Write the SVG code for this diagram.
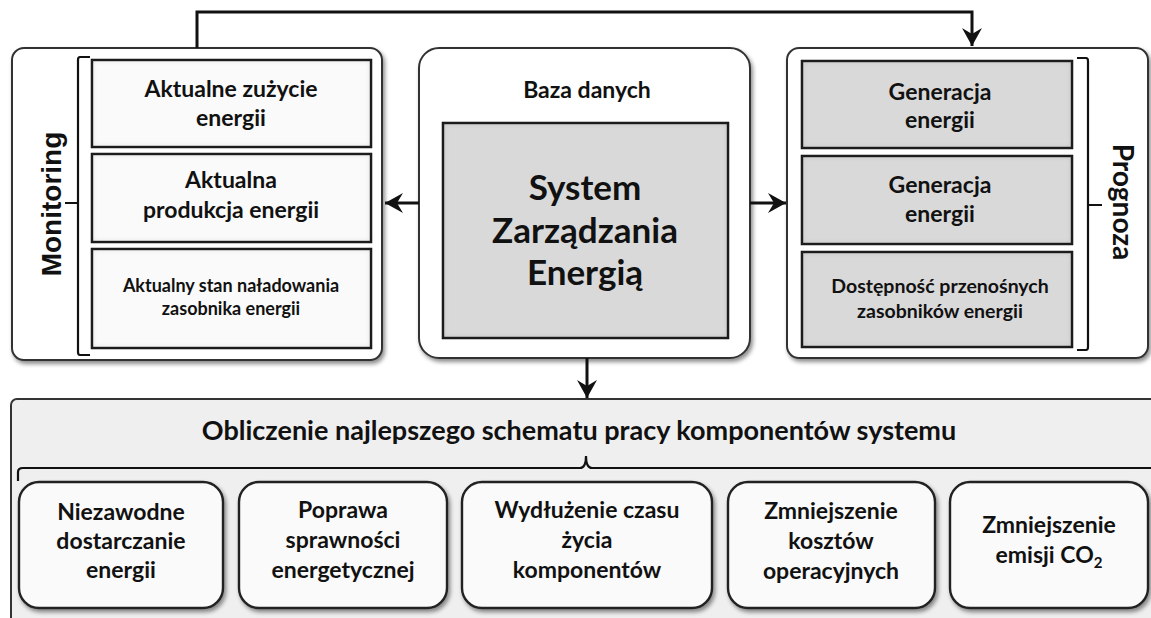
<svg xmlns="http://www.w3.org/2000/svg" width="1151" height="618" viewBox="0 0 1151 618">
<defs>
<style>
.t{font-family:Lato,"Liberation Sans",sans-serif;font-weight:bold;fill:#111;text-anchor:middle}
.panel{fill:#fff;stroke:#333;stroke-width:2}
.box{stroke:#222;stroke-width:2.4}
.w{fill:#fafafa}
.g{fill:#d9d9d9}
.con{fill:none;stroke:#111;stroke-width:3}
.br{fill:none;stroke:#111;stroke-width:2.2}
</style>
<filter id="sh" x="-5%" y="-5%" width="115%" height="115%">
<feDropShadow dx="2" dy="3" stdDeviation="2" flood-color="#000" flood-opacity="0.45"/>
</filter>
<filter id="bev" x="-5%" y="-5%" width="110%" height="110%">
<feFlood flood-color="#000" flood-opacity="0.45" result="f"/>
<feComposite in="f" in2="SourceAlpha" operator="out" result="o"/>
<feGaussianBlur in="o" stdDeviation="3" result="b"/>
<feComposite in="b" in2="SourceAlpha" operator="in" result="i"/>
<feMerge><feMergeNode in="SourceGraphic"/><feMergeNode in="i"/></feMerge>
</filter>
<marker id="ar" viewBox="0 0 22 22" refX="20" refY="11" markerWidth="22" markerHeight="22" markerUnits="userSpaceOnUse" orient="auto">
<path d="M20,11 L2,1 L8,11 L2,21 Z" fill="#111"/>
</marker>
</defs>

<g id="monitoring">
<rect class="panel" x="12" y="48" width="370" height="312" rx="12" filter="url(#sh)"/>
<path class="br" d="M90,57 L80,57 Q78,57 78,60 L78,352 Q78,355 80,355 L90,355 M78,203 L65,203"/>
<text class="t" x="61" y="204" transform="rotate(-90 61 204)" style="font-family:'Liberation Sans',Arial,sans-serif;font-size:28px">Monitoring</text>
<g id="m1"><rect class="box w" x="92" y="60" width="279" height="87" filter="url(#bev)"/>
<text class="t" x="231" y="97" font-size="23">Aktualne zużycie</text><text class="t" x="231" y="126" font-size="23">energii</text></g>
<g id="m2"><rect class="box w" x="92" y="154" width="279" height="88" filter="url(#bev)"/>
<text class="t" x="231" y="188" font-size="23">Aktualna</text><text class="t" x="231" y="218" font-size="23">produkcja energii</text></g>
<g id="m3"><rect class="box w" x="92" y="249" width="279" height="99" filter="url(#bev)"/>
<text class="t" x="231" y="292" font-size="18">Aktualny stan naładowania</text><text class="t" x="231" y="315" font-size="18">zasobnika energii</text></g>
</g>

<g id="baza">
<rect class="panel" x="419" y="48" width="331" height="310" rx="20" filter="url(#sh)"/>
<text class="t" x="587" y="98" font-size="23">Baza danych</text>
<g id="sze"><rect class="box g" x="443" y="123" width="285" height="215" filter="url(#bev)"/>
<text class="t" x="585" y="200" font-size="35">System</text>
<text class="t" x="585" y="243" font-size="35">Zarządzania</text>
<text class="t" x="585" y="285" font-size="35">Energią</text></g>
</g>

<g id="prognoza">
<rect class="panel" x="787" y="48" width="361" height="310" rx="12" filter="url(#sh)"/>
<path class="br" d="M1077,58 L1086,58 Q1088,58 1088,61 L1088,347 Q1088,350 1086,350 L1077,350 M1088,205 L1102,205"/>
<text class="t" x="1113" y="202" transform="rotate(90 1113 202)" font-size="28">Prognoza</text>
<g id="p1"><rect class="box g" x="802" y="61" width="270" height="87" filter="url(#bev)"/>
<text class="t" x="940" y="100" font-size="23">Generacja</text><text class="t" x="940" y="128" font-size="23">energii</text></g>
<g id="p2"><rect class="box g" x="802" y="156" width="270" height="88" filter="url(#bev)"/>
<text class="t" x="940" y="193" font-size="23">Generacja</text><text class="t" x="940" y="222" font-size="23">energii</text></g>
<g id="p3"><rect class="box g" x="802" y="252" width="270" height="95" filter="url(#bev)"/>
<text class="t" x="940" y="293" font-size="19.5">Dostępność przenośnych</text><text class="t" x="940" y="318" font-size="19.5">zasobników energii</text></g>
</g>

<g id="obliczenie">
<rect x="11" y="399" width="1160" height="240" rx="6" fill="#efefef" stroke="#333" stroke-width="2"/>
<text class="t" x="579" y="440" font-size="27">Obliczenie najlepszego schematu pracy komponentów systemu</text>
<path class="br" d="M18,481 L18,472 Q18,468 23,468 L580,468 Q586,468 586,456 Q586,468 592,468 L1160,468"/>
<g id="b1"><rect class="box w" x="19" y="482" width="204" height="126" rx="20" filter="url(#sh)"/>
<text class="t" x="121" y="520" font-size="23">Niezawodne</text><text class="t" x="121" y="549" font-size="23">dostarczanie</text><text class="t" x="121" y="578" font-size="23">energii</text></g>
<g id="b2"><rect class="box w" x="239" y="482" width="208" height="126" rx="20" filter="url(#sh)"/>
<text class="t" x="343" y="518" font-size="23">Poprawa</text><text class="t" x="343" y="548" font-size="23">sprawności</text><text class="t" x="343" y="578" font-size="23">energetycznej</text></g>
<g id="b3"><rect class="box w" x="462" y="482" width="250" height="126" rx="20" filter="url(#sh)"/>
<text class="t" x="587" y="518" font-size="23">Wydłużenie czasu</text><text class="t" x="587" y="548" font-size="23">życia</text><text class="t" x="587" y="578" font-size="23">komponentów</text></g>
<g id="b4"><rect class="box w" x="728" y="482" width="207" height="126" rx="20" filter="url(#sh)"/>
<text class="t" x="831" y="519" font-size="23">Zmniejszenie</text><text class="t" x="831" y="549" font-size="23">kosztów</text><text class="t" x="831" y="579" font-size="23">operacyjnych</text></g>
<g id="b5"><rect class="box w" x="950" y="482" width="198" height="126" rx="20" filter="url(#sh)"/>
<text class="t" x="1049" y="533" font-size="23">Zmniejszenie</text><text class="t" x="1049" y="563" font-size="23">emisji CO<tspan font-size="15" dy="5">2</tspan></text></g>
</g>

<g id="connectors">
<path class="con" d="M197,48 L197,12 L972,12 L972,46" marker-end="url(#ar)"/>
<path class="con" d="M419,203 L385,203" marker-end="url(#ar)"/>
<path class="con" d="M750,203 L786,203" marker-end="url(#ar)"/>
<path class="con" d="M587,358 L587,398" marker-end="url(#ar)"/>
</g>
</svg>
